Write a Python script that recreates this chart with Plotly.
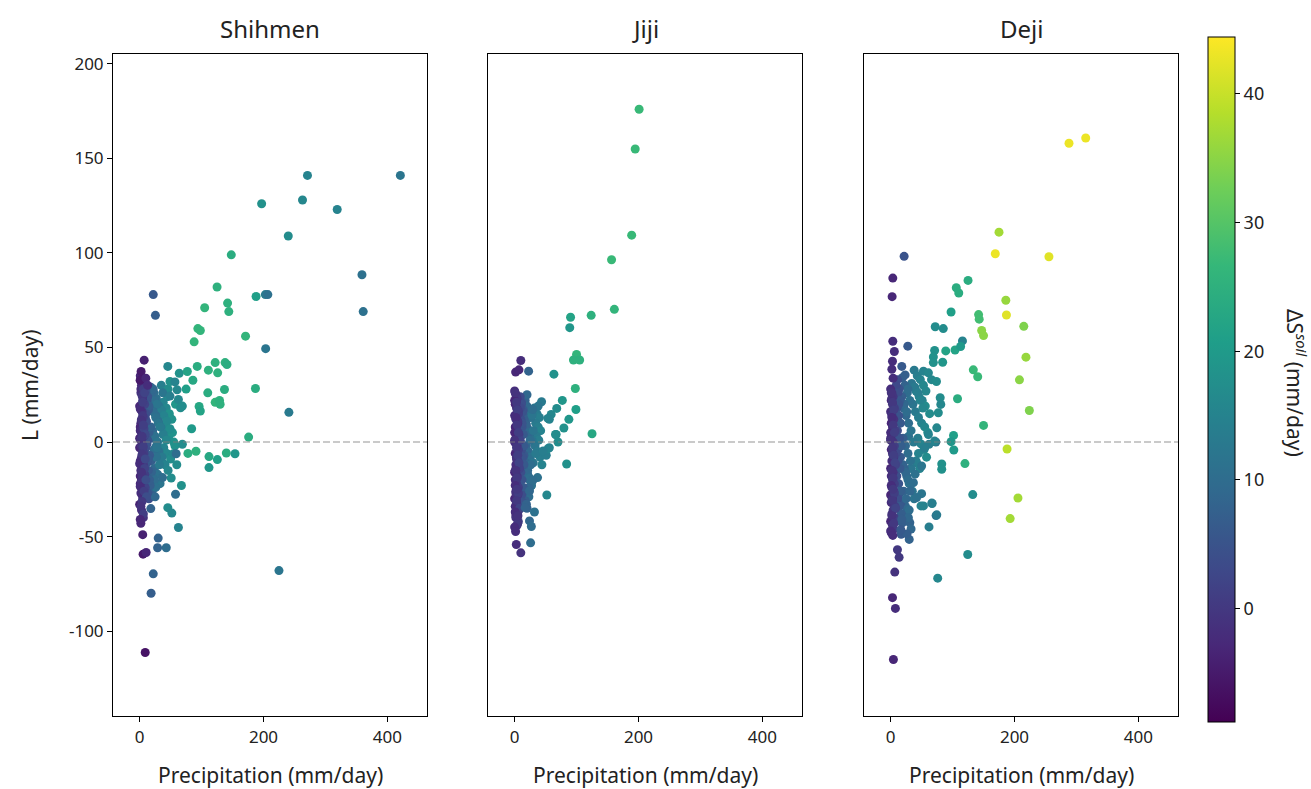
import plotly.graph_objects as go

# ---------------- data ----------------
TITLES = ["Shihmen", "Jiji", "Deji"]
X_TICKS = [0, 200, 400]
Y_TICKS = [-100, -50, 0, 50, 100, 150, 200]
Y_TICKTEXT = ["-100", "-50", "0", "50", "100", "150", "200"]
CB_TICKS = [0, 10, 20, 30, 40]

# Shihmen: scattered points
SH_OUT_P = [421, 271, 197, 263, 319, 240, 148, 359, 361, 22,
            25.5, 125, 142, 144, 105, 188, 203, 207, 94, 98,
            88, 171, 203.5, 45.5, 93, 122, 138, 141, 111, 126,
            64, 77, 86, 187, 137, 75, 110, 122, 129, 130,
            96, 98, 84, 241, 176, 69, 78, 91, 112, 125.5,
            140, 154, 112, 54.5, 59, 60, 37, 67.5, 58, 45.5,
            52, 62.6, 18, 30, 29, 43, 5.6, 10.5, 5, 22,
            18.5, 225, 9, 7.3, 2.4, 0.8, 10, 13, 57, 60.5,
            37.4, 49, 62.6, 66, 69]
SH_OUT_L = [141, 141, 126, 128, 123, 109, 99, 88.5, 69, 78,
            67, 82, 73.5, 69, 71, 77, 78, 78, 60, 59,
            53, 56, 49.4, 40, 40, 42, 42, 41, 38, 36.6,
            36.4, 37.3, 32.7, 28.3, 27.8, 28, 26, 21, 22, 20,
            18.8, 16.4, 7, 15.7, 2.6, -1.2, -6, -4.9, -7.7, -9.3,
            -5.8, -6.2, -13.5, -6.2, -6.2, -12, -18.8, -23, -27.6, -34.7,
            -37.6, -45.2, -35.2, -50.8, -55.9, -55.9, -59.3, -58.4, -49, -69.7,
            -80, -68, -111.3, 43.3, 37.3, 32.7, 33.8, 30, 31.8, 27.6,
            26, 24.3, 22.5, 18.1, 19]
SH_OUT_S = [12, 15, 18, 16, 15, 17, 24, 11, 11, 6,
            7, 25, 25, 25, 26, 21, 13, 11, 26, 26,
            26, 26, 12, 16, 24, 25, 25, 24, 25, 25,
            18, 22, 23, 24, 24, 21, 24, 26, 25, 25,
            23, 22, 20, 13, 24, 17, 24, 25, 23, 21,
            24, 19, 19, 16, 10, 17, 10, 18, 10, 17,
            16, 15, 8, 8, 8, 10, -5, -3, -4, 8,
            7, 12, -6, -4, -5, -5, -3, -2, 15, 16,
            12, 14, 16, 17, 17]
# Shihmen: dense cluster near zero precipitation
SH_CL_P = [35, 40, 45, 38, 43, 48, 52, 36, 41, 47, 55, 39, 44, 50, 58, 42, 46, 53, 37, 49, 34, 57,
           18, 23, 27, 31, 35, 39, 44, 49, 16, 21, 26, 30, 34, 38, 43, 17, 22, 27, 31, 36, 41, 46, 51, 19,
           24, 29, 33, 15, 20, 25,
           20, 24, 28, 22, 26, 30, 21, 25, 29, 23, 27, 32, 19, 24, 28, 33, 22, 26,
           10, 12, 14, 9, 11, 15, 13, 10, 16, 12, 14, 11, 17, 13, 15, 10, 12, 18, 14, 16, 11, 13,
           1, 3, 2, 5, 0, 4, 6, 2, 1, 3, 7, 2, 4, 0, 5, 3, 1, 6, 2, 8,
           3, 1, 4, 2, 5, 0, 3, 6, 2, 4, 1, 7, 3, 5, 2, 0, 4, 9, 1, 3,
           2, 6, 4, 8, 1, 5, 3, 7, 9, 2, 6, 4, 0, 8, 5, 3, 1, 7, 11, 4,
           2, 6, 9, 3, 5, 1, 8, 4, 10, 6]
SH_CL_L = [30, 27, 24, 21, 18, 15, 12, 9, 6, 3, 0, -3, -6, -9, 20, 10, 28, 5, -11, 32, 14, -2,
           29, 26, 23, 19, 17, 14, 11, 7, 20, 17, 14, 11, 8, 4, 1, 6, 2, -2, -5, -8, -12, -15, -19, -10,
           -14, -17, -22, -30, -26, -29,
           25, 22, 20, 16, 13, 10, 6, 3, 0, -4, -8, -12, -16, -20, -3, 8, 28, -24,
           27, 22, 17, 13, 9, 5, 1, -3, -7, -11, -15, -19, -23, -27, 19, 15, -1, 8, -9, -20, 11, 24,
           35, 30, 26, 22, 19, 16, 13, 10, 8, 5, 3, 1, -1, -3, -5, -8, -10, -12, -15, -17,
           -20, -22, -25, -27, -30, -33, -36, -40, -43, -28, -18, -6, 12, 24, 28, 2, -14, -24, 6, -2,
           32.5, 28, 24.5, 20, 17.5, 14, 11.5, 7, 4, 1.5, -2.5, -6.5, -11.5, -14, -18.5, -21, -23.5, -26, -29, -31.5,
           -34, -38, -9, -16, 21, -41, 26, 3, -20, 9]
SH_CL_S = [14, 15, 17, 15, 16, 18, 18, 14, 15, 17, 18, 15, 16, 17, 19, 16, 17, 18, 14, 18, 13, 18,
           8, 10, 11, 12, 14, 15, 16, 17, 6, 8, 10, 11, 13, 14, 16, 5, 8, 10, 11, 13, 15, 16, 17, 7,
           9, 11, 12, 4, 7, 9,
           9, 10, 12, 10, 11, 12, 9, 11, 12, 10, 11, 13, 8, 10, 12, 13, 9, 11,
           4, 5, 6, 4, 5, 7, 5, 4, 6, 5, 6, 4, 7, 5, 7, 4, 5, 8, 6, 7, 4, 5,
           -3, -2, -1, 0, -3, -1, 1, -2, -3, -1, 1, -2, -1, -3, 0, -1, -2, 0, -2, 1,
           -1, -3, -1, -2, -1, -4, -2, -1, -3, -2, -3, 1, 0, 0, -2, -3, -1, 2, -2, -1,
           -1, 1, 0, 2, -2, 0, -1, 2, 3, -1, 1, 0, -2, 2, 0, -1, -2, 1, 4, 0,
           -1, 1, 3, -1, 1, -3, 2, 0, 4, 1]

# Jiji: scattered points
JJ_OUT_P = [201, 194.7, 189, 156.5, 161, 123.6, 90.3, 89, 100, 95,
            105, 98, 63.4, 10, 1.6, 7, 22.6, 77, 99, 87.6,
            79.5, 125, 67, 70, 84, 52, 32, 24, 27, 25.8,
            1.6, 2.7, 10, 56, 59, 68, 43.5, 51, 37, 54,
            38, 29, 53.7, 66, 56, 46, 29.5, 24, 19, 17,
            1, 5.4]
JJ_OUT_L = [176, 155, 109.4, 96.4, 70.2, 67, 66, 60.5, 46.3, 43.4,
            43.4, 28.3, 35.9, 43.1, 37, 38.2, 37.5, 22, 17.2, 12,
            7.4, 4.4, 4, 0, -11.6, -28, -37, -41.7, -44.7, -53.3,
            -47.3, -54.2, -58.6, 12, 14.6, 17.8, 21.3, -7, -18.8, -3.5,
            19, 17.2, 12.5, 4, -3, -4.7, -20.2, -25.9, -32.9, -34.7,
            -37, -39]
JJ_OUT_S = [27, 27, 27, 27, 26, 25, 22, 19, 26, 25,
            25, 25, 18, -2, -3, -3, 8, 19, 21, 19,
            18, 23, 17, 17, 18, 16, 11, 9, 10, 10,
            -2, -2, -1, 15, 16, 17, 13, 14, 11, 16,
            12, 10, 15, 17, 15, 14, 10, 9, 8, 8,
            -2, -1]
# Jiji: dense cluster
JJ_CL_P = [32, 36, 40, 34, 38, 42, 35, 39, 33, 37, 41, 44,
           17, 20, 23, 26, 18, 21, 24, 28, 19, 22, 25, 30, 18, 21, 24, 27, 20, 23,
           11, 14, 16, 19, 22, 25, 12, 15, 18, 21, 24, 27, 13, 17, 20, 23, 26, 30, 34, 28,
           9, 11, 13, 10, 12, 14, 9, 11, 13, 15, 10, 12, 14, 11, 13, 9, 15, 12,
           0, 2, 4, 1, 3, 6, 0, 2, 5, 1, 3, 7, 2, 0, 4, 6, 1, 3, 5, 2, 8, 0, 4,
           1, 3, 6, 2, 5, 0, 3, 1, 7, 4, 2, 6, 0, 3, 5, 1, 9, 2, 4, 0, 6, 3,
           1, 3, 5, 2, 4, 6, 0, 3, 5, 7, 2, 4, 1, 6, 3, 8, 2, 5, 0, 4]
JJ_CL_L = [18, 15, 13, 10, 8, 6, 3, 1, -2, -5, -8, -12,
           22, 19, 16, 13, 10, 7, 4, 1, -2, -5, -8, -11, -14, -17, -20, -23, 25, -29,
           21, 17, 13, 9, 5, 1, -3, -7, -11, -15, -19, -23, -27, -31, -35, -24, -12, 6, -6, 14,
           24, 20, 16, 12, 8, 4, 0, -4, -8, -12, -16, -20, -24, -28, -32, 18, -2, 10,
           27, 25, 23, 20, 18, 16, 14, 12, 10, 8, 6, 4, 2, 0, -2, -4, -6, -8, -10, -12, -14, -16, -18,
           -20, -22, -24, -26, -28, -30, -32, -34, -36, -38, -40, -42, 22, -1, 11, -15, 1, -27, -44, 5, 15, -9,
           26, 21, 17, 13, 9, 5, 1, -3, -7, -11, -15, -19, -23, -27, -31, -35, -39, -43, -45, -25]
JJ_CL_S = [12, 13, 14, 13, 14, 15, 13, 14, 12, 13, 14, 15,
           8, 9, 10, 11, 8, 9, 10, 12, 8, 9, 11, 12, 8, 9, 10, 11, 9, 10,
           4, 6, 7, 8, 9, 10, 5, 6, 8, 9, 10, 11, 5, 7, 8, 9, 10, 12, 13, 12,
           3, 4, 5, 4, 5, 6, 3, 4, 5, 6, 4, 5, 6, 4, 5, 3, 6, 5,
           -2, -1, 0, -3, -1, 1, -2, 0, -1, -3, -2, 1, 0, -2, -1, 1, -3, -1, 0, -2, 2, -3, -1,
           -2, 0, 1, -2, 0, -3, -1, -2, 1, 0, -1, 1, -3, -1, 0, -2, 2, -1, 0, -3, 1, -1,
           -1, 0, 1, -2, 0, 1, -1, 0, 1, 2, -1, 0, -2, 1, 0, 2, -1, 0, -2, 0]

# Deji: scattered points
DJ_OUT_P = [288, 315, 175, 169, 255.6, 21.8, 3.5, 2.4, 125, 106,
            110, 186, 187, 142, 143, 97.6, 215, 147, 150, 72,
            85, 116, 27.7, 3.5, 6, 71, 89, 104, 113, 69,
            84, 69, 133.5, 140.6, 218.5, 208, 224, 108, 150, 101.6,
            97.6, 102, 73, 188, 120, 82.5, 82.5, 132.6, 205.6, 193,
            124.5, 76, 67, 53, 49, 73.4, 62, 30, 19, 31,
            33, 17, 26.5, 3.5, 11, 13.7, 6.7, 3, 7.7, 4.5,
            3, 2, 4, 18, 23.4, 53, 61, 66, 74, 80,
            81, 77, 74.5, 61, 62, 71, 55, 50, 39.5, 31.5,
            36.8, 50, 42, 66.5, 74.5, 28.7, 18, 16.5]
DJ_OUT_L = [158, 160.8, 111, 99.6, 98, 98.2, 86.7, 76.9, 85.5, 81.6,
            78.8, 75, 67.2, 67.4, 65, 68.8, 61.2, 59, 56.3, 61,
            60, 53.5, 50.7, 53.3, 47.9, 48.4, 48.2, 48.7, 50.5, 45,
            42.2, 42, 38.2, 34.5, 44.9, 32.9, 16.7, 22.9, 8.8, 3.5,
            0.2, -4.2, 0, -3.7, -11.4, -11.6, -14.4, -27.8, -29.6, -40.5,
            -59.5, -72, -32.5, -33.8, -33.8, -38.9, -44.9, -51.5, -42.7, -42.7,
            -46, -48.8, -48.6, -49.4, -57, -61, -68.8, -82.3, -88, -115,
            42.7, 38.5, 33.8, 40, 35.5, 37.5, 36.6, 33, 32, 23.4,
            19.9, 15.5, 7.5, 4, -1.2, 0.5, -3, -12.7, -17, -25.9,
            -21.5, -27.3, -29.4, -32.3, -38.5, -40, -40.8, -46.4]
DJ_OUT_S = [43, 43, 37, 43, 42, 5, -3, -3, 24, 24,
            24, 36, 42, 28, 28, 21, 34, 35, 35, 17,
            17, 15, 6, -2, -2, 18, 22, 22, 20, 18,
            19, 18, 27, 27, 36, 35, 34, 24, 26, 21,
            19, 20, 12, 39, 25, 18, 18, 17, 37, 37,
            17, 16, 15, 15, 15, 11, 14, 8, 7, 8,
            9, 6, 7, -2, 0, 0, -1, -3, -2, -3,
            -2, -2, -2, 6, 7, 15, 16, 16, 17, 17,
            16, 17, 16, 15, 14, 15, 14, 12, 11, 9,
            10, 12, 11, 14, 13, 9, 7, 6]
# Deji: dense cluster
DJ_CL_P = [38, 43, 48, 53, 41, 46, 51, 56, 40, 45, 50, 55, 60, 44, 49, 54, 58, 42, 47, 63, 36, 57,
           34, 39, 44, 48, 52, 29, 37, 45, 33, 41,
           19, 23, 27, 31, 21, 25, 29, 33, 20, 24, 28, 32, 22, 26, 30, 35, 38, 24, 28, 21,
           11, 14, 18, 22, 26, 12, 16, 20, 24, 28, 13, 17, 21, 25, 30,
           9, 12, 15, 10, 13, 16, 11, 14, 17, 9, 12, 15, 10, 13, 16, 11, 14, 17, 10, 13,
           0, 2, 4, 1, 3, 6, 0, 2, 5, 1, 3, 7, 2, 0, 4, 6, 1, 3, 5, 2, 8,
           0, 4, 1, 3, 6, 2, 5, 0, 3, 1, 7, 4, 2, 6, 0, 3, 5, 1, 2, 4, 0,
           1, 3, 5, 2, 4, 6, 0, 3, 5, 7, 2, 4, 1, 6, 3, 8, 2, 5, 0, 4]
DJ_CL_L = [38, 35, 33, 30, 27, 24, 22, 19, 16, 13, 10, 8, 5, 2, -1, -4, -8, -11, -14, 15, 20, 27,
           31, 29, 26, 22, 18, 3, 0, -6, -14, -10,
           34, 30, 26, 22, 18, 14, 10, 6, 2, -2, -6, -10, -14, -18, -22, -26, -30, -34, 28, -38,
           33, 28, 24, 20, 16, -4, -8, -12, -16, -20, -28, -32, -26, -30, -36,
           30, 26, 22, 18, 14, 10, 6, 2, -2, -6, -10, -14, -18, -22, -26, -30, -34, -38, -42, 20,
           28, 26, 24, 22, 20, 18, 16, 14, 12, 10, 8, 6, 4, 2, 0, -2, -4, -6, -8, -10, -12,
           -14, -16, -18, -20, -22, -24, -26, -28, -30, -32, -34, -36, -38, -40, -42, -44, -46, -48, 23, -7, 5,
           26, 21, 17, 13, 9, 5, 1, -3, -7, -11, -15, -19, -23, -27, -31, -35, -39, -43, -47, -25]
DJ_CL_S = [13, 14, 15, 16, 14, 15, 15, 17, 13, 14, 15, 16, 17, 14, 15, 16, 17, 14, 15, 17, 12, 16,
           12, 13, 14, 15, 16, 11, 13, 15, 12, 14,
           7, 8, 10, 11, 8, 9, 10, 12, 7, 9, 10, 11, 8, 9, 11, 12, 12, 9, 10, 8,
           4, 5, 7, 9, 10, 4, 6, 8, 9, 10, 5, 6, 8, 9, 10,
           3, 4, 6, 4, 5, 6, 4, 5, 7, 3, 5, 6, 4, 5, 7, 4, 6, 7, 4, 5,
           -2, -1, 0, -3, -1, 1, -2, 0, -1, -3, -2, 1, 0, -2, -1, 1, -3, -1, 0, -2, 2,
           -3, -1, -2, 0, 1, -2, 0, -3, -1, -2, 1, 0, -1, 1, -3, -1, 0, -2, -1, 0, -2,
           -1, 0, 1, -2, 0, 1, -1, 0, 1, 2, -1, 0, -2, 1, 0, 2, -1, 0, -2, 0]

PANELS = [
    (SH_CL_P + SH_OUT_P, SH_CL_L + SH_OUT_L, SH_CL_S + SH_OUT_S),
    (JJ_CL_P + JJ_OUT_P, JJ_CL_L + JJ_OUT_L, JJ_CL_S + JJ_OUT_S),
    (DJ_CL_P + DJ_OUT_P, DJ_CL_L + DJ_OUT_L, DJ_CL_S + DJ_OUT_S),
]

# ---------------- layout constants ----------------
W, H = 1311, 789
FONT = "Noto Sans"
X_RANGE = [-43, 464]
Y_RANGE = [-145, 205.3]
X_DOMAINS = [[113 / W, 427 / W], [488 / W, 802 / W], [864 / W, 1178 / W]]
Y_DOMAIN = [1 - 716 / H, 1 - 52 / H]

fig = go.Figure()
for i, (p, l, s) in enumerate(PANELS):
    sfx = "" if i == 0 else str(i + 1)
    fig.add_trace(go.Scatter(
        x=p, y=l, mode="markers",
        marker=dict(size=9, color=s, coloraxis="coloraxis", line=dict(width=0)),
        xaxis="x" + sfx, yaxis="y" + sfx, showlegend=False, hoverinfo="skip"))

axis_common = dict(showline=True, linecolor="black", linewidth=1, mirror=True,
                   showgrid=False, zeroline=False,
                   tickfont=dict(family=FONT, size=17, color="#222"))
layout = dict(
    width=W, height=H, margin=dict(l=0, r=0, t=0, b=0),
    paper_bgcolor="white", plot_bgcolor="white",
    font=dict(family=FONT, color="#222"),
    coloraxis=dict(
        colorscale="Viridis", cmin=-8.8, cmax=44.4,
        colorbar=dict(x=1208 / W, xanchor="left", xpad=0, ypad=0,
                      y=1 - 378.5 / H, yanchor="middle",
                      len=(722 - 35) / H, lenmode="fraction", thickness=27,
                      outlinewidth=1, outlinecolor="black",
                      tickvals=CB_TICKS, ticks="outside", ticklen=5, tickcolor="black",
                      tickfont=dict(family=FONT, size=18, color="#222"))),
)
for i in range(3):
    sfx = "" if i == 0 else str(i + 1)
    layout["xaxis" + sfx] = dict(axis_common, domain=X_DOMAINS[i], range=X_RANGE,
                                 anchor="y" + sfx, tickvals=X_TICKS,
                                 ticks="outside", ticklen=5, tickcolor="black")
    ya = dict(axis_common, domain=Y_DOMAIN, range=Y_RANGE, anchor="x" + sfx)
    if i == 0:
        ya.update(tickvals=Y_TICKS, ticktext=Y_TICKTEXT, ticks="outside",
                  ticklen=5, tickcolor="black")
    else:
        ya.update(matches="y", showticklabels=False, ticks="")
    layout["yaxis" + sfx] = ya
fig.update_layout(**layout)

# dashed zero lines
for i in range(3):
    sfx = "" if i == 0 else str(i + 1)
    fig.add_shape(type="line", xref=f"x{sfx} domain", yref="y" + sfx,
                  x0=0, x1=1, y0=0, y1=0, layer="above",
                  line=dict(color="rgba(128,128,128,0.55)", width=1.6, dash="7px,3px"))

# subplot titles and axis titles
for i, t in enumerate(TITLES):
    cx = (X_DOMAINS[i][0] + X_DOMAINS[i][1]) / 2
    fig.add_annotation(text=t, x=cx, y=1 - 27 / H, xref="paper", yref="paper",
                       xanchor="center", yanchor="middle",
                       showarrow=False, font=dict(family=FONT, size=24, color="#222"))
    fig.add_annotation(text="Precipitation (mm/day)", x=cx, y=1 - 775 / H,
                       xref="paper", yref="paper", xanchor="center", yanchor="middle",
                       showarrow=False, font=dict(family=FONT, size=21, color="#222"))
fig.add_annotation(text="L (mm/day)", x=30 / W, y=1 - 384 / H, xref="paper", yref="paper",
                   xanchor="center", yanchor="middle",
                   showarrow=False, textangle=-90, font=dict(family=FONT, size=21, color="#222"))
fig.add_annotation(text="ΔS<sup><i>soil</i></sup> (mm/day)", x=1297 / W, y=1 - 382 / H,
                   xref="paper", yref="paper", xanchor="center", yanchor="middle",
                   showarrow=False, textangle=90,
                   font=dict(family=FONT, size=21, color="#222"))

fig.write_html("out.html")
